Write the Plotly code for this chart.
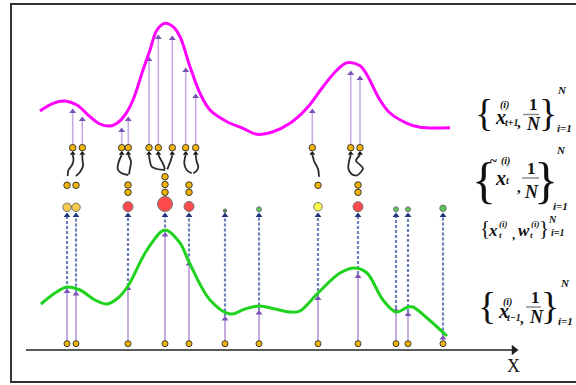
import plotly.graph_objects as go

# ---------------- data (pixel-space units) ----------------
# particles at t-1 (bottom row)
prev_x = [67, 76, 128, 165, 189, 225, 259, 318, 358, 396, 408, 443]
prev_level = 343.7
# height where the likelihood arrows hit the green curve
lik_tip_y = [289, 291.5, 286, 232.5, 261.5, 316.5, 310.5, 296, 274, 308, 312, 335.5]

# weighted particles {x_t, w_t}
w_y = [207.3, 207.3, 206.7, 204, 206.5, 210.7, 209.3, 206.7, 206.7, 209.3, 209.3, 208.3]
w_size = [8.5, 8.5, 10, 15, 10, 3.5, 5, 8.5, 10, 5, 5, 6.5]
w_kind = ["gold", "gold", "red", "red", "red", "dkgreen", "green", "yellow", "red", "green", "green", "green"]
w_arrow_level = 215.5

# resampled particles
res_x = [67, 76, 128, 128, 165, 165, 165, 189, 189, 318, 358, 358]
res_y = [185.3, 185.3, 185, 192.3, 176.7, 184.5, 192.3, 185, 192.3, 185.3, 185, 192.3]

# predicted particles x_{t+1}
pred_x = [72.7, 82.3, 121.7, 128.3, 149, 158.3, 172.3, 185.7, 195.7, 312.3, 350.7, 360]
pred_level = 147.7
pred_tip_y = [109, 117, 128, 117, 57, 35, 36, 68, 94, 109, 71, 76]

# black "move" connectors from resampled to predicted particles
move_px = [
    [67.7, 68.5, 72, 73.5, 72.7],
    [76, 80, 83, 82.5, 82.3],
    [128.3, 121.7, 117.7, 118.3, 121.7],
    [129, 130, 131, 128.3],
    [165, 156.7, 151.7, 150, 149],
    [165, 163.3, 161, 158.3],
    [167.3, 169, 170.7, 172.3],
    [191.7, 186.7, 184.3, 185.7],
    [193.3, 196.7, 198.3, 196.7, 195.7],
    [319, 318.3, 316.7, 314.3, 313.3, 312.3],
    [356.7, 351.7, 348.3, 349, 350.7],
    [356.7, 360, 363, 359, 356, 360],
]
move_py = [
    [176, 170, 165, 160, 155],
    [176, 172, 166, 160, 155],
    [175, 173.3, 169.3, 163.3, 155],
    [174.3, 168.3, 161.7, 155],
    [170, 169, 166.7, 161.7, 155],
    [169.3, 164.3, 160, 155],
    [169.3, 165, 160.7, 155],
    [173.3, 170, 163.3, 155],
    [173.3, 170.7, 166.7, 161.7, 155],
    [176.7, 170, 166, 161.7, 158.3, 155],
    [175.7, 174.3, 168.3, 161.7, 155],
    [175.7, 173, 168.3, 164, 160.7, 155],
]

# likelihood curve (green)
green_x = [41, 55, 67, 80, 95, 107, 118, 128, 147, 165, 180, 189, 210, 230, 245, 259, 275,
           290, 300, 318, 340, 355, 367, 383, 396, 408, 413, 427, 447]
green_y = [304, 293, 287, 290, 300, 304, 298, 286, 250, 230, 243, 262, 300, 314, 309, 306, 309,
           312, 311, 293, 273, 268, 273, 300, 312, 307, 307, 318, 336]

# predicted density (magenta)
mag_x = [40, 53, 65, 77, 90, 100, 110, 117, 125, 133, 143, 150, 157, 165, 173, 180, 190, 200,
         210, 227, 243, 257, 273, 290, 307, 323, 337, 347, 360, 367, 380, 390, 407, 420, 450]
mag_y = [111, 103.3, 101, 105, 116.7, 124, 126, 123.3, 115, 100, 70, 50, 30, 23.3, 26.7, 36.7,
         66.7, 93.3, 110, 121.7, 128.3, 134.3, 131.7, 123.3, 108, 86.7, 70, 62.7, 65.7, 75, 100,
         113, 123.3, 127.3, 127.7]

axis_y = 350
axis_x0, axis_x1 = 26, 518

colors = {"gold": "#F2B300", "red": "#FF0000", "yellow": "#FFFF00",
          "green": "#10B010", "dkgreen": "#0B5E0B"}

# ---------------- figure ----------------
fig = go.Figure()


def segs(xs, y0s, y1s):
    X, Y = [], []
    for x, a, b in zip(xs, y0s, y1s):
        X += [x, x, None]
        Y += [a, b, None]
    return X, Y


n = len(prev_x)
# purple arrows: t-1 particles -> green curve
X, Y = segs(prev_x, [prev_level] * n, [t + 2 for t in lik_tip_y])
fig.add_trace(go.Scatter(x=X, y=Y, mode="lines", line=dict(color="#C4ACE2", width=2), hoverinfo="skip"))
fig.add_trace(go.Scatter(x=prev_x, y=[t + 2.5 for t in lik_tip_y], mode="markers",
                         marker=dict(symbol="triangle-up", size=6, color="#7A52B3"), hoverinfo="skip"))

# dashed blue arrows: green curve -> weighted particles
X, Y = segs(prev_x, lik_tip_y, [w_arrow_level] * n)
fig.add_trace(go.Scatter(x=X, y=Y, mode="lines", line=dict(color="#B4C2E6", width=2.4, dash="3px,2px"),
                         hoverinfo="skip"))
fig.add_trace(go.Scatter(x=X, y=Y, mode="lines", line=dict(color="#2C3F8C", width=1, dash="3px,2px"),
                         hoverinfo="skip"))
fig.add_trace(go.Scatter(x=prev_x, y=[w_arrow_level] * n, mode="markers",
                         marker=dict(symbol="triangle-up", size=6, color="#1F3380"), hoverinfo="skip"))

# purple arrows: predicted particles -> magenta curve
m = len(pred_x)
X, Y = segs(pred_x, [pred_level - 3] * m, [t + 2 for t in pred_tip_y])
fig.add_trace(go.Scatter(x=X, y=Y, mode="lines", line=dict(color="#C4ACE2", width=1.6), hoverinfo="skip"))
fig.add_trace(go.Scatter(x=pred_x, y=[t + 2.5 for t in pred_tip_y], mode="markers",
                         marker=dict(symbol="triangle-up", size=6, color="#7A52B3"), hoverinfo="skip"))

# curves
fig.add_trace(go.Scatter(x=green_x, y=green_y, mode="lines",
                         line=dict(color="#1ED21E", width=3, shape="spline", smoothing=1.0), hoverinfo="skip"))
fig.add_trace(go.Scatter(x=mag_x, y=mag_y, mode="lines",
                         line=dict(color="#FF00FF", width=3, shape="spline", smoothing=1.0), hoverinfo="skip"))

# black move connectors
for px, py in zip(move_px, move_py):
    fig.add_trace(go.Scatter(x=px, y=py, mode="lines",
                             line=dict(color="#2A2A2A", width=1.8, shape="spline", smoothing=1.0),
                             hoverinfo="skip"))
fig.add_trace(go.Scatter(x=[p[-1] for p in move_px], y=[py[-1] - 1.5 for py in move_py], mode="markers",
                         marker=dict(symbol="triangle-up", size=5, color="#111111"), hoverinfo="skip"))

# x axis with arrow
fig.add_trace(go.Scatter(x=[axis_x0, axis_x1 - 5], y=[axis_y, axis_y], mode="lines",
                         line=dict(color="#222222", width=1.6), hoverinfo="skip"))
fig.add_trace(go.Scatter(x=[axis_x1 - 4], y=[axis_y], mode="markers",
                         marker=dict(symbol="triangle-right", size=9, color="#222222"), hoverinfo="skip"))

# particles
dot_line = dict(color="#3A3A3A", width=1)
fig.add_trace(go.Scatter(x=prev_x, y=[prev_level] * n, mode="markers",
                         marker=dict(size=6, color=colors["gold"], line=dot_line), hoverinfo="skip"))
fig.add_trace(go.Scatter(x=prev_x, y=w_y, mode="markers",
                         marker=dict(size=w_size, color=[colors[k] for k in w_kind], line=dot_line),
                         hoverinfo="skip"))
fig.add_trace(go.Scatter(x=res_x, y=res_y, mode="markers",
                         marker=dict(size=6.5, color=colors["gold"], line=dot_line), hoverinfo="skip"))
fig.add_trace(go.Scatter(x=pred_x, y=[pred_level] * m, mode="markers",
                         marker=dict(size=6.5, color=colors["gold"], line=dot_line), hoverinfo="skip"))

# frame
fig.add_shape(type="rect", x0=11, y0=4, x1=580, y1=382, line=dict(color="#333333", width=2))

# ---------------- formulas ----------------
SERIF = "Liberation Serif"
ann = []


def t(x, y, s, size, it=True, bold=True, color="#111111"):
    txt = s
    if it:
        txt = "<i>" + txt + "</i>"
    if bold:
        txt = "<b>" + txt + "</b>"
    ann.append(dict(x=x, y=y, text=txt, showarrow=False, xanchor="center", yanchor="middle",
                    borderpad=0, font=dict(family=SERIF, size=size, color=color)))


def frac_bar(x0, x1, y):
    fig.add_shape(type="line", x0=x0, x1=x1, y0=y, y1=y, line=dict(color="#8C8C8C", width=1.5))


# {x_{t+1}^{(i)}, 1/N}_{i=1}^N
t(484, 113, "{", 38, it=False, bold=False)
t(500.5, 116.5, "x", 20)
t(504, 105, "(i)", 10)
t(511, 122, "t+1", 10)
t(518.5, 122, ",", 15, it=False)
t(533, 104, "1", 17, it=False)
frac_bar(523, 539, 114.5)
t(533, 124, "N", 18)
t(548, 113, "}", 38, it=False, bold=False)
t(562, 90, "N", 11)
t(564, 128, "i=1", 11)

# {~x_t^{(i)}, 1/N}_{i=1}^N
t(484, 180, "{", 50, it=False, bold=False)
t(493, 160.5, "~", 13, it=False)
t(505.5, 160.5, "(i)", 10)
t(500, 177.5, "x", 20)
t(508, 180.5, "t", 10)
t(518.5, 187, ",", 15, it=False)
t(531, 168, "1", 17, it=False)
frac_bar(522, 539, 178)
t(531, 192, "N", 18)
t(546, 180, "}", 50, it=False, bold=False)
t(561, 150, "N", 11)
t(560, 206, "i=1", 11)

# {x_t^{(i)}, w_t^{(i)}}_{i=1}^N
t(485, 228, "{", 21, it=False, bold=False)
t(493, 230.5, "x", 17)
t(503.5, 223.5, "(i)", 9)
t(500, 234.5, "t", 9)
t(513.5, 234, ",", 13, it=False)
t(523.5, 230.5, "w", 17)
t(535, 223.5, "(i)", 9)
t(531, 234.5, "t", 9)
t(543.5, 228, "}", 21, it=False, bold=False)
t(552, 219.5, "N", 10)
t(557, 232.5, "i=1", 10)

# {x_{t-1}^{(i)}, 1/N}_{i=1}^N
t(487, 306, "{", 38, it=False, bold=False)
t(503, 311, "x", 20)
t(507.5, 301.5, "(i)", 10)
t(514, 317, "t\u22121", 10)
t(522, 318, ",", 15, it=False)
t(535, 297, "1", 17, it=False)
frac_bar(526, 541, 307)
t(536, 317, "N", 18)
t(550, 306, "}", 38, it=False, bold=False)
t(565, 283, "N", 11)
t(565, 321, "i=1", 11)

# axis label
t(513, 366, "X", 18, it=False, bold=False)

fig.update_layout(
    width=576, height=385, margin=dict(l=0, r=0, t=0, b=0),
    paper_bgcolor="white", plot_bgcolor="white", showlegend=False,
    xaxis=dict(range=[0, 576], visible=False, fixedrange=True),
    yaxis=dict(range=[385, 0], visible=False, fixedrange=True),
    annotations=ann,
)

fig.write_html("out.html", config={"displayModeBar": False},
               post_script="document.body.style.margin='0';document.body.style.overflow='hidden';")
